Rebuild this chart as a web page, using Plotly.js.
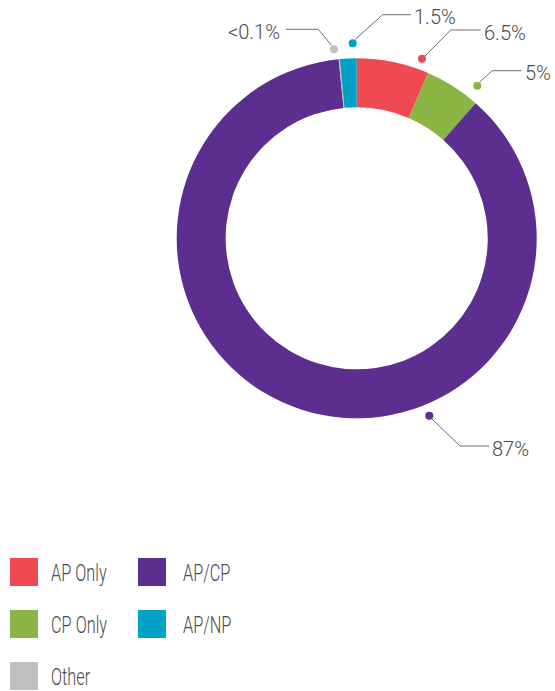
<!DOCTYPE html>
<html><head><meta charset="utf-8">
<script src="https://cdn.plot.ly/plotly-3.0.1.min.js"></script>
<style>html,body{margin:0;padding:0;background:#fff}#chart{width:555px;height:691px}</style>
</head><body><div id="chart"></div>
<script>
// ---- data ----
const categories = ['AP Only', 'CP Only', 'AP/CP', 'Other', 'AP/NP'];
const values = [6.5, 5, 87, 0.1, 1.5];
const valueLabels = ['6.5%', '5%', '87%', '<0.1%', '1.5%'];
const colors = ['#EF4A51', '#8AB443', '#5C2E8F', '#BFBFBF', '#009FC5'];
const legendOrder = ['AP Only', 'AP/CP', 'CP Only', 'AP/NP', 'Other'];

// ---- layout helpers (pixel space) ----
const W = 555, H = 691;
const cx = 356.7, cy = 238.3, R = 180;
const FONT = 'Roboto, "Liberation Sans", sans-serif';
const TEXTCOL = '#4a4a4a';
const leaders = {
  'AP Only': {dot: [422, 58.7], path: [[425, 56], [450.7, 30], [480.7, 30]], anchor: 'left'},
  'CP Only': {dot: [477.3, 85.7], path: [[480, 81.7], [492.3, 70.7], [521.7, 70.7]], anchor: 'left'},
  'AP/CP':   {dot: [429.3, 415.7], path: [[431.5, 418.5], [460, 446], [489.3, 446]], anchor: 'left'},
  'Other':   {dot: [334, 49.3], path: [[331.7, 45.5], [318.3, 29.3], [286, 29.3]], anchor: 'right'},
  'AP/NP':   {dot: [352.7, 43.3], path: [[355, 39.5], [382.7, 14.7], [411, 14.7]], anchor: 'left'}
};

const pie = {
  type: 'pie',
  labels: categories,
  values: values,
  marker: {colors: colors, line: {width: 0}},
  hole: 0.728,
  sort: false,
  direction: 'clockwise',
  rotation: 0,
  textinfo: 'none',
  hoverinfo: 'label+percent',
  showlegend: false,
  domain: {x: [(cx - R) / W, (cx + R) / W], y: [1 - (cy + R) / H, 1 - (cy - R) / H]}
};

const dots = {
  type: 'scatter', mode: 'markers',
  x: categories.map(c => leaders[c].dot[0]),
  y: categories.map(c => leaders[c].dot[1]),
  marker: {color: colors, size: 8},
  hoverinfo: 'skip', showlegend: false
};

const shapes = [];
const annotations = [];
categories.forEach((c, i) => {
  const L = leaders[c];
  const p = L.path;
  shapes.push({type: 'path', xref: 'x', yref: 'y',
    path: 'M' + p.map(q => q[0] + ',' + q[1]).join(' L'),
    line: {color: '#6e6e6e', width: 1}});
  const end = p[p.length - 1];
  annotations.push({xref: 'x', yref: 'y', x: end[0] + (L.anchor === 'left' ? 1 : -4), y: end[1] + 2.5,
    text: valueLabels[i], showarrow: false, xanchor: L.anchor, yanchor: 'middle',
    font: {family: FONT, size: 20, weight: 300, color: TEXTCOL}});
});

// legend drawn manually
const colX = [10, 138], textX = [48.5, 180.5];
const legendStart = annotations.length;
legendOrder.forEach((name, k) => {
  const col = k % 2, row = Math.floor(k / 2);
  const y0 = 558 + row * 52;
  const ci = categories.indexOf(name);
  shapes.push({type: 'rect', xref: 'x', yref: 'y', x0: colX[col], x1: colX[col] + 28, y0: y0, y1: y0 + 28,
    fillcolor: colors[ci], line: {width: 0}});
  annotations.push({xref: 'x', yref: 'y', x: textX[col], y: y0 + 15, text: name, showarrow: false,
    xanchor: 'left', yanchor: 'middle', font: {family: FONT, size: 23, weight: 300, color: TEXTCOL}});
});

const layout = {
  width: W, height: H,
  margin: {l: 0, r: 0, t: 0, b: 0},
  paper_bgcolor: '#fff', plot_bgcolor: 'rgba(0,0,0,0)',
  xaxis: {range: [0, W], visible: false, fixedrange: true},
  yaxis: {range: [H, 0], visible: false, fixedrange: true},
  shapes: shapes, annotations: annotations,
  showlegend: false
};

Plotly.newPlot('chart', [pie, dots], layout, {displayModeBar: false}).then(gd => {
  // condensed look for legend labels: horizontal squeeze around the left edge
  const s = 0.71;
  gd.querySelectorAll('.annotation').forEach(g => {
    const idx = +g.getAttribute('data-index');
    if (idx < legendStart) return;
    const t = g.querySelector('text');
    if (!t) return;
    const b = t.getBBox();
    t.setAttribute('transform', 'translate(' + (b.x * (1 - s)) + ',0) scale(' + s + ',1)');
  });
});
</script></body></html>
